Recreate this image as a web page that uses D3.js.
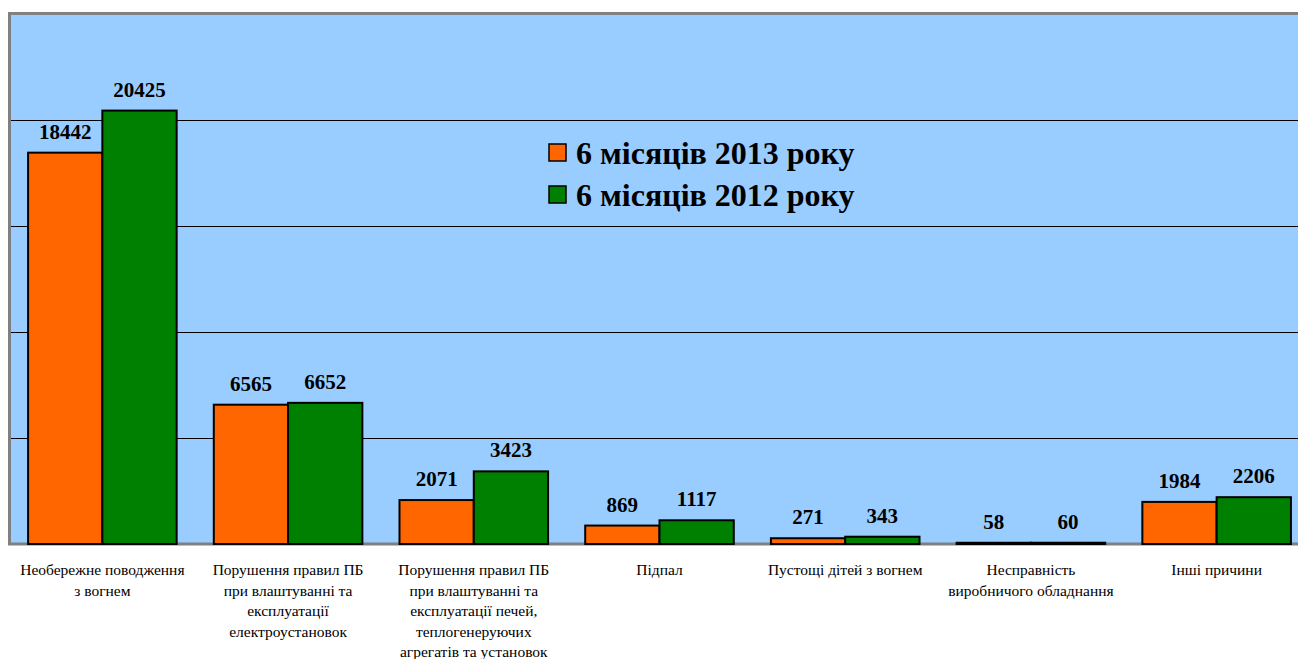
<!DOCTYPE html>
<html>
<head>
<meta charset="utf-8">
<script src="https://cdn.jsdelivr.net/npm/d3@7"></script>
<style>
  body { margin: 0; background: #fff; }
  svg text { font-family: "Liberation Serif", "Times New Roman", serif; }
</style>
</head>
<body>
<div id="chart"></div>
<script>
// data
var categories = [
  ["Необережне поводження", "з вогнем"],
  ["Порушення правил ПБ", "при влаштуванні та", "експлуатації", "електроустановок"],
  ["Порушення правил ПБ", "при влаштуванні та", "експлуатації печей,", "теплогенеруючих", "агрегатів та установок"],
  ["Підпал"],
  ["Пустощі дітей з вогнем"],
  ["Несправність", "виробничого обладнання"],
  ["Інші причини"]
];
var series2013 = [18442, 6565, 2071, 869, 271, 58, 1984];
var series2012 = [20425, 6652, 3423, 1117, 343, 60, 2206];
var seriesNames = ["6 місяців 2013 року", "6 місяців 2012 року"];
var colors = ["#FF6600", "#008000"];
var yTicks = [0, 5000, 10000, 15000, 20000, 25000];

var W = 1298, H = 659;
var plot = { left: 9.5, top: 13.5, right: 1309.5, bottom: 544 };
var serif = "'Liberation Serif', 'Times New Roman', serif";

var svg = d3.select("#chart").append("svg")
  .attr("width", W).attr("height", H);

var x0 = d3.scaleBand()
  .domain(d3.range(categories.length))
  .range([plot.left, plot.right])
  .paddingInner(0.2)
  .paddingOuter(0.1);

var x1 = d3.scaleBand()
  .domain([0, 1])
  .range([0, x0.bandwidth()]);

var y = d3.scaleLinear()
  .domain([0, 25000])
  .range([plot.bottom, plot.top]);

// plot background
svg.append("rect")
  .attr("x", plot.left).attr("y", plot.top)
  .attr("width", plot.right - plot.left).attr("height", plot.bottom - plot.top)
  .attr("fill", "#99CCFF");

// gridlines
svg.append("g")
  .selectAll("line")
  .data(yTicks.slice(1, -1))
  .join("line")
    .attr("x1", plot.left).attr("x2", plot.right)
    .attr("y1", function(d) { return Math.round(y(d)) + 0.5; })
    .attr("y2", function(d) { return Math.round(y(d)) + 0.5; })
    .attr("stroke", "#000").attr("stroke-width", 1.2);

// border (left, top, bottom)
svg.append("path")
  .attr("d", "M" + plot.right + "," + plot.top + "H" + plot.left + "V" + plot.bottom + "H" + plot.right)
  .attr("fill", "none").attr("stroke", "#808080").attr("stroke-width", 3);

// bars
var rows = categories.map(function(c, i) { return [series2013[i], series2012[i]]; });

var groups = svg.append("g").selectAll("g")
  .data(rows)
  .join("g")
    .attr("transform", function(d, i) { return "translate(" + x0(i) + ",0)"; });

groups.selectAll("rect")
  .data(function(d) { return d; })
  .join("rect")
    .attr("x", function(d, j) { return x1(j); })
    .attr("y", function(d) { return y(d); })
    .attr("width", x1.bandwidth())
    .attr("height", function(d) { return y(0) - y(d); })
    .attr("fill", function(d, j) { return colors[j]; })
    .attr("stroke", "#000")
    .attr("stroke-width", 2);

// value labels
groups.selectAll("text.val")
  .data(function(d) { return d; })
  .join("text")
    .attr("class", "val")
    .attr("x", function(d, j) { return x1(j) + x1.bandwidth() / 2; })
    .attr("y", function(d) { return y(d) - 14; })
    .attr("text-anchor", "middle")
    .attr("font-family", serif)
    .attr("font-size", "21px")
    .attr("font-weight", "bold")
    .text(function(d) { return d; });

// category labels
svg.append("g").selectAll("text")
  .data(categories)
  .join("text")
    .attr("x", function(d, i) { return x0(i) + x0.bandwidth() / 2; })
    .attr("y", 575)
    .attr("text-anchor", "middle")
    .attr("font-family", serif)
    .attr("font-size", "15.5px")
    .selectAll("tspan")
    .data(function(d) { return d; })
    .join("tspan")
      .attr("x", function() { return d3.select(this.parentNode).attr("x"); })
      .attr("dy", function(d, k) { return k === 0 ? 0 : 20.5; })
      .text(function(d) { return d; });

// legend
var legend = svg.append("g")
  .attr("transform", "translate(549,0)");
var legRows = legend.selectAll("g")
  .data(seriesNames)
  .join("g")
    .attr("transform", function(d, i) { return "translate(0," + (153 + i * 42) + ")"; });
legRows.append("rect")
  .attr("x", 0).attr("y", -9)
  .attr("width", 17).attr("height", 17)
  .attr("fill", function(d, i) { return colors[i]; })
  .attr("stroke", "#000").attr("stroke-width", 1.5);
legRows.append("text")
  .attr("x", 27).attr("y", 11)
  .attr("font-family", serif)
  .attr("font-size", "32px")
  .attr("font-weight", "bold")
  .text(function(d) { return d; });
</script>
</body>
</html>
